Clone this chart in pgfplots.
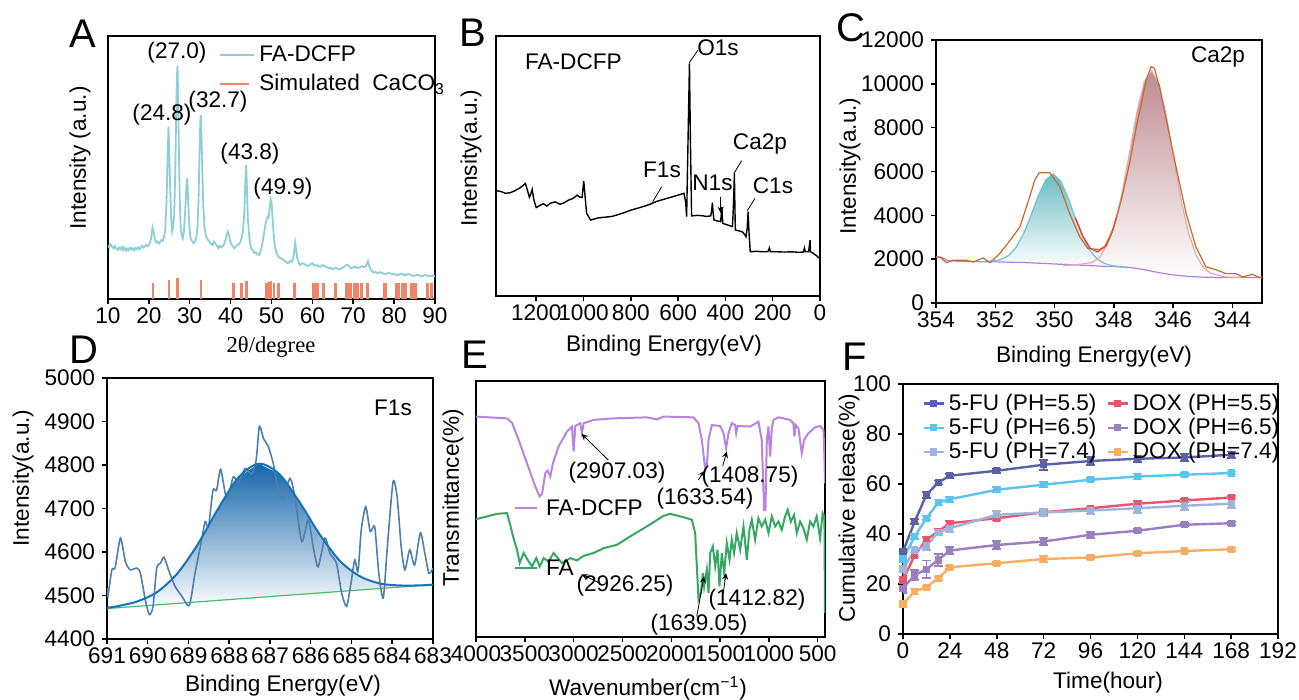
\documentclass[border=0pt]{standalone}
\usepackage{pgfplots}
\pgfplotsset{compat=1.18}
\usepackage{fontspec}
\setmainfont{Liberation Sans}
\newfontfamily\seriffont{Liberation Serif}

\definecolor{xrdteal}{HTML}{8ECFD4}
\definecolor{stick}{HTML}{EE8468}
\definecolor{cteal}{HTML}{6CC5CC}
\definecolor{ctealfill}{HTML}{6BBEC5}
\definecolor{cpink}{HTML}{E0A8B0}
\definecolor{cpinkfill}{HTML}{BE8C92}
\definecolor{corange}{HTML}{C8692A}
\definecolor{cbg}{HTML}{B27FE8}
\definecolor{dline}{HTML}{4F7FAE}
\definecolor{dfit}{HTML}{1874B8}
\definecolor{dfill}{HTML}{1466AA}
\definecolor{dgreen}{HTML}{4CBB6C}
\definecolor{epurple}{HTML}{B884E0}
\definecolor{egreen}{HTML}{35A862}
\definecolor{fdark}{HTML}{5A61A8}
\definecolor{fsky}{HTML}{5BC3F0}
\definecolor{flight}{HTML}{9DB5DE}
\definecolor{fred}{HTML}{E8566C}
\definecolor{fpurple}{HTML}{9B7EC0}
\definecolor{forange}{HTML}{F7AE63}

\newcommand{\fs}{\fontsize{11.3}{13}\selectfont}

\pgfplotsset{panel/.style={
  scale only axis, anchor=south west,
  tick align=outside, major tick length=2.5pt,
  axis line style={line width=0.75pt},
  every tick/.style={line width=0.75pt, black},
  tick label style={font=\fs},
  xticklabel style={yshift=1.5pt},
  /pgf/number format/assume math mode=true,
  /pgf/number format/1000 sep={},
  scaled ticks=false,
  xtick pos=left, ytick pos=left,
}}

\begin{document}
\begin{tikzpicture}[font=\fs]
\useasboundingbox (0,0) rectangle (649.5pt,350pt);

% ---------------- A: XRD
\begin{axis}[panel, at={(54pt,200.5pt)}, width=163.5pt, height=131.5pt,
  xmin=10, xmax=90, ymin=0, ymax=100, xtick={10,20,...,90}, ytick=\empty,
  legend style={at={(0.32,0.995)}, anchor=north west, draw=none, fill=none,
    font=\fs, row sep=1pt},
  legend cell align=left]
\addplot[xrdteal, line width=0.9pt] coordinates {
(10,20.5)(10.3,19.6)(10.6,20.8)(11,19.9)(11.4,19.2)(11.7,20.1)(12,19.3)(12.4,18.6)(12.7,19.5)(13,18.9)
(13.4,19.8)(13.7,18.7)(14,19.6)(14.4,18.4)(14.7,19.2)(15,18.6)(15.4,19.5)(15.7,18.8)(16,19.3)(16.4,18.5)
(16.7,19.4)(17,18.9)(17.4,19.7)(17.7,18.9)(18,19.4)(18.4,20.2)(18.7,19.5)(19,19.9)(19.4,20.6)(19.7,20.1)
(20,20.5)(20.3,21.4)(20.6,23.5)(20.9,27.1)(21.2,25.3)(21.5,22.4)(21.8,21.5)(22.1,21.9)(22.5,21.1)(22.8,21.8)
(23.1,22.4)(23.4,22.1)(23.7,23.5)(24.0,26.2)(24.3,36)(24.55,52)(24.8,65.5)(25.0,55)(25.2,42.7)(25.45,31)
(25.7,25.6)(25.95,27.5)(26.2,32.6)(26.45,48)(26.65,68)(26.85,84)(27.0,88.6)(27.15,78)(27.35,56)(27.55,38)
(27.8,26.2)(28.05,24.2)(28.3,23.1)(28.6,26)(28.9,34)(29.2,43)(29.4,45.9)(29.6,38)(29.85,29)(30.1,24)
(30.4,22.4)(30.7,21.8)(31,21.2)(31.3,22)(31.6,23.4)(31.9,27)(32.15,38)(32.4,56)(32.6,68)(32.7,70)
(32.85,63)(33.05,50.3)(33.3,36)(33.6,27.5)(33.9,24.5)(34.2,23.2)(34.5,22.4)(34.9,21.5)(35.3,20.8)(35.6,20.5)
(35.9,21.8)(36.2,21.2)(36.6,20.4)(37,19.3)(37.4,20.2)(37.7,19.6)(38,19.9)(38.4,20.8)(38.7,22.4)(39.0,24.2)
(39.3,25.6)(39.55,24.5)(39.8,22.5)(40.1,21.2)(40.5,20.1)(40.9,19.3)(41.3,20)(41.7,20.5)(42.1,20.9)(42.5,22.2)
(42.8,23.7)(43.1,27)(43.35,33)(43.6,45)(43.8,51)(44.0,42)(44.2,31)(44.45,25.5)(44.7,21.8)(45,19.3)
(45.4,18.6)(45.8,17.4)(46.2,17.8)(46.6,16.9)(47,16.7)(47.3,18)(47.6,19.9)(47.9,22.4)(48.2,25)(48.5,28.5)
(48.8,30)(49.05,31.3)(49.3,31)(49.55,34.5)(49.8,37.9)(50.0,37)(50.2,32.5)(50.45,26.2)(50.7,22)(51,18.6)
(51.4,16.8)(51.8,15.9)(52.2,15.5)(52.6,15.2)(53,14.8)(53.5,14.2)(54,13.6)(54.5,14.4)(55,14.2)(55.3,15.6)
(55.55,18)(55.8,21.4)(56.05,18.5)(56.3,15.5)(56.6,14.2)(57,12.9)(57.5,13.6)(58,13.3)(58.5,12.8)(59,12.5)
(59.5,13.2)(60,13.6)(60.5,12.7)(61,12.9)(61.5,12.4)(62,12.3)(62.5,12.9)(63,12.5)(63.5,12.1)(64,11.7)
(64.5,11.9)(65,11.3)(65.5,11.8)(66,11.7)(66.5,11.2)(67,11.5)(67.5,12)(68,12.5)(68.4,13)(68.7,12.9)
(69.1,12.2)(69.5,11.7)(70,12)(70.5,12.3)(71,11.8)(71.5,11.9)(72,12.3)(72.3,12.5)(72.7,12.1)(73,12.3)
(73.3,13.2)(73.6,14.4)(73.9,12.8)(74.3,11)(74.7,10.5)(75,10)(75.5,10.3)(76,9.8)(76.5,10.2)(77,10)
(77.5,9.6)(78,9.5)(78.5,9.9)(79,9.8)(79.5,9.4)(80,9.5)(80.5,9.2)(81,9.1)(81.5,9.6)(82,9.5)
(82.5,9.1)(83,9.1)(83.5,9.5)(84,9.3)(84.5,8.9)(85,8.7)(85.5,9.2)(86,9.1)(86.5,8.7)(87,8.7)
(87.5,9.1)(88,9)(88.5,8.6)(89,8.7)(89.5,8.9)(90,8.5)};
\addlegendentry{FA-DCFP}
\addplot[stick, line width=1.3pt, ycomb,
  legend image code/.code={\draw[stick, line width=1.3pt] (0cm,0cm) -- (0.5cm,0cm);}]
  coordinates {
(21.0,6.2)(24.9,7.2)(27.0,8)(32.8,7.2)(40.7,6.2)(42.6,6.2)(43.9,7)(48.8,6.2)(49.3,6.5)(49.9,7)
(50.6,6.2)(51.7,6.2)(55.7,6.2)(60.2,6.2)(60.8,6.2)(61.4,6.2)(62.7,6.2)(65.7,6.2)(68.2,6.2)(68.8,6.2)
(69.5,6.2)(70.3,6.2)(71.1,6.2)(72.0,6.2)(73.5,6.2)(77.5,6.2)(78.0,6.2)(80.6,6.2)(81.2,6.2)(82.0,6.2)
(82.8,6.2)(84.2,6.2)(84.7,6.2)(85.3,6.2)(88.1,6.2)(89.2,6.2)};
\addlegendentry{Simulated\ \ CaCO\textsubscript{3}}
\end{axis}

% ---------------- B: XPS survey
\begin{axis}[panel, at={(248pt,202pt)}, width=162pt, height=130pt,
  x dir=reverse, xmin=0, xmax=1370, ymin=0, ymax=100,
  xtick={0,200,...,1200}, ytick=\empty]
\addplot[black, line width=0.7pt] coordinates {
(1370,40.5)(1350,40.2)(1330,39.5)(1310,39.7)(1290,40.5)(1270,41.5)(1255,42.5)(1246,43.3)(1238,41)(1229,38)
(1222,39.5)(1217,41)(1210,37)(1200,34)(1185,34.8)(1170,35.5)(1155,34.6)(1140,35.7)(1120,36.2)(1100,35.3)
(1085,35.7)(1065,36.8)(1045,37.5)(1027,38.8)(1015,38)(1006,37.9)(999,44.2)(993,38)(987,31.8)(970,29.2)
(940,30)(910,30.3)(880,30.6)(857,31.2)(830,32)(800,33)(770,33.8)(740,34.6)(716,35.4)(690,36.4)
(660,37.2)(630,38)(600,38.8)(575,39.5)(568,36)(564,30.5)(558,60)(552,89.5)(548,60)(543,30.8)
(520,31)(500,30.9)(480,30.6)(462,30.8)(458,33)(455,35.9)(452,32)(448,29.2)(435,28.9)(420,28.6)
(417,32)(415,34.2)(413,31)(411,27.9)(390,27.3)(370,26.7)(366,35)(362,47.2)(360,35)(358,25.4)
(340,25)(327,24.6)(318,23.5)(313,22.8)(308,26)(304,32.4)(300,24)(295,17)(270,17.2)(240,17)
(220,17.1)(214,18.5)(210,17)(180,17)(150,16.9)(120,17)(90,16.8)(70,16.9)(66,18.5)(62,17)
(48,17)(44,20)(42,21.5)(40,17)(30,16.5)(15,15.5)(4,14.6)};
\end{axis}

% ---------------- C: Ca2p
\begin{axis}[panel, at={(468pt,198.5pt)}, width=163pt, height=131.5pt,
  x dir=reverse, xmin=343, xmax=354, ymin=0, ymax=12000,
  xtick={344,346,...,354}, ytick={0,2000,...,12000}]
% shaded areas: each peak followed by the background under it, back the other way
\addplot[top color=ctealfill, bottom color=white, draw=none] coordinates {
(352.55,1883)(352.05,1919)(351.8,1992)(351.55,2170)(351.3,2533)(351.05,3143)(350.8,3978)(350.55,4894)(350.3,5617)(350.05,5883)
(349.8,5583)(349.55,4829)(349.3,3883)(349.05,3020)(348.8,2376)(348.55,1995)(348.3,1797)(348.05,1703)(347.55,1628)
(348,1660)(348.5,1684)(349,1718)(349.5,1748)(350,1780)(350.5,1812)(351,1843)(351.5,1860)(352,1878)(352.55,1883)};
\addplot[top color=cpinkfill, bottom color=white, draw=none] coordinates {
(349.72,1711)(349.22,1749)(348.72,1854)(348.47,2111)(348.22,2646)(347.97,3594)(347.72,5034)(347.47,6853)(347.22,8706)(346.97,10101)
(346.72,10590)(346.47,9971)(346.22,8466)(345.97,6513)(345.72,4644)(345.47,3159)(345.22,2176)(344.97,1616)(344.72,1344)(344.22,1184)(343.72,1161)
(344,1160)(344.5,1165)(345,1180)(345.5,1215)(346,1280)(346.5,1390)(347,1530)(347.5,1625)(348,1660)(348.5,1684)(349,1700)(349.72,1711)};
\addplot[cbg, line width=0.6pt] coordinates {
(354,2100)(353.8,2080)(353.6,1930)(353.2,1900)(352.5,1885)(352,1878)(351.5,1860)(351,1843)(350.5,1812)(350,1780)
(349.5,1748)(349,1718)(348.5,1684)(348,1660)(347.5,1625)(347,1530)(346.5,1390)(346,1280)(345.5,1215)(345,1180)
(344.5,1165)(344,1160)(343,1160)};
\addplot[cteal, line width=0.6pt] coordinates {
(352.55,1883)(352.05,1919)(351.8,1992)(351.55,2170)(351.3,2533)(351.05,3143)(350.8,3978)(350.55,4894)(350.3,5617)(350.05,5883)
(349.8,5583)(349.55,4829)(349.3,3883)(349.05,3020)(348.8,2376)(348.55,1995)(348.3,1797)(348.05,1703)(347.55,1628)};
\addplot[cpink, line width=0.6pt] coordinates {
(349.72,1711)(349.22,1749)(348.72,1854)(348.47,2111)(348.22,2646)(347.97,3594)(347.72,5034)(347.47,6853)(347.22,8706)(346.97,10101)
(346.72,10590)(346.47,9971)(346.22,8466)(345.97,6513)(345.72,4644)(345.47,3159)(345.22,2176)(344.97,1616)(344.72,1344)(344.22,1184)(343.72,1161)};
\addplot[red!85, line width=0.6pt] coordinates {
(349.3,3896)(349.05,3062)(348.8,2502)(348.55,2327)(348.3,2570)(348.05,3293)(347.9,3971)};
\addplot[corange, line width=0.6pt] coordinates {
(354,2100)(353.87,2100)(353.64,1840)(353.42,1950)(352.97,1950)(352.74,1870)(352.41,2055)(352.18,1840)(351.85,2250)(351.5,2860)
(351.17,3470)(350.84,4840)(350.67,5600)(350.52,5940)(350.16,5940)(349.82,5300)(349.49,4080)(349.15,3015)(348.87,2480)(348.48,2440)
(348.25,2635)(348.03,3320)(347.75,4690)(347.47,6370)(347.24,8040)(347.07,9110)(346.91,10170)(346.74,10780)(346.63,10710)(346.46,9870)
(346.18,8040)(345.9,6210)(345.56,4080)(345.23,2560)(344.89,1645)(344.55,1520)(344.22,1340)(343.88,1340)(343.65,1190)(343.32,1310)
(343.09,1160)(343,1180)};
\end{axis}

% ---------------- D: F1s
\begin{axis}[panel, at={(53.5pt,30.5pt)}, width=163pt, height=130.5pt,
  x dir=reverse, xmin=683, xmax=691, ymin=4400, ymax=5000,
  xtick={683,...,691}, ytick={4400,4500,...,5000}]
\addplot[top color=dfill, bottom color=white, draw=none] coordinates {
(691,4472)(690.77,4475)(690.27,4486)(689.77,4508)(689.27,4551)(688.77,4618)(688.27,4700)(687.77,4772)(687.27,4803)
(686.77,4779)(686.27,4714)(685.77,4639)(685.27,4578)(684.77,4543)(684.27,4527)(683.77,4523)(683.27,4523.4)(683,4525)
(691,4470)};
\addplot[dgreen, line width=0.6pt] coordinates {(691,4470)(683,4525)};
\addplot[dline, line width=0.8pt, smooth, tension=0.4] coordinates {
(691.0,4517)(690.98,4498)(690.88,4559)(690.8,4564)(690.67,4632)(690.55,4578)(690.43,4559)(690.27,4563)(690.18,4551)(690.06,4490)
(689.96,4456)(689.87,4475)(689.78,4563)(689.69,4574)(689.6,4588)(689.49,4559)(689.33,4521)(689.16,4498)(688.98,4477)(688.84,4551)
(688.71,4612)(688.59,4670)(688.51,4657)(688.4,4742)(688.31,4742)(688.21,4790)(688.06,4721)(687.9,4773)(687.78,4758)(687.61,4792)
(687.45,4779)(687.34,4811)(687.26,4889)(687.16,4861)(687.04,4842)(686.92,4804)(686.8,4746)(686.69,4721)(686.51,4769)(686.39,4727)
(686.22,4624)(686.06,4674)(685.94,4612)(685.82,4566)(685.65,4632)(685.53,4597)(685.37,4574)(685.24,4505)(685.12,4475)(685.02,4524)
(684.92,4582)(684.84,4555)(684.76,4651)(684.65,4704)(684.54,4647)(684.43,4658)(684.33,4551)(684.22,4494)(684.12,4612)(683.98,4761)
(683.88,4727)(683.78,4612)(683.69,4559)(683.57,4605)(683.45,4570)(683.31,4644)(683.2,4597)(683.1,4551)(683.0,4563)};
\addplot[dfit, line width=1pt, smooth] coordinates {
(691,4472)(690.77,4475)(690.27,4486)(689.77,4508)(689.27,4551)(688.77,4618)(688.27,4700)(687.77,4772)(687.27,4803)
(686.77,4779)(686.27,4714)(685.77,4639)(685.27,4578)(684.77,4543)(684.27,4527)(683.77,4523)(683.27,4523.4)(683,4525)};
\end{axis}

% ---------------- E: FTIR
\begin{axis}[panel, at={(238pt,31.5pt)}, width=174.5pt, height=128pt,
  x dir=reverse, xmin=425, xmax=4000, ymin=0, ymax=100,
  xtick={500,1000,...,4000}, ytick=\empty]
\addplot[epurple, line width=1pt] coordinates {
(4000,86.1)(3683,85.4)(3631,83.7)(3563,77)(3478,67.9)(3393,58.8)(3348,54.9)(3324,55.9)(3290,64)(3266,65)
(3239,62.7)(3212,67.9)(3154,74.4)(3069,80.2)(3017,82.2)(3000,72.4)(2983,82.4)(2932,83.5)(2915,79.6)(2898,83.5)
(2796,84.8)(2591,85.4)(2250,85.8)(2147,85)(2079,86.1)(1772,85.8)(1721,83.5)(1687,77)(1653,65.9)(1636,66.6)
(1618,77)(1584,82.8)(1499,82.4)(1465,79.6)(1438,73.7)(1414,79.6)(1380,83.5)(1346,82.8)(1335,79.6)(1322,82.4)
(1192,82.2)(1107,84.1)(1073,77)(1049,49.7)(1035,49.7)(1021,77)(1004,82.2)(987,70.5)(970,81.5)(953,84.8)
(902,85.8)(783,84.8)(749,83.5)(739,78.3)(725,82.8)(697,81.5)(663,71.8)(639,77)(595,79.6)(527,81.9)
(476,82.4)(441,80.9)(431,70.5)(425,60)};
\addplot[egreen, line width=1pt] coordinates {
(4000,46)(3785,48.1)(3683,48.4)(3649,43.8)(3621,39.3)(3580,34.1)(3553,28.9)(3512,32.8)(3461,29.5)(3427,27.6)
(3382,30.8)(3348,27.6)(3307,30.8)(3256,29.5)(3205,32.8)(3120,28.9)(3034,30.8)(2966,29.9)(2898,31.7)(2796,32.8)
(2693,34.7)(2557,36)(2420,39.3)(2250,43.2)(2079,47.3)(2011,48.1)(1874,46.8)(1789,45.8)(1755,40.6)(1738,27.6)
(1721,14.8)(1697,17.2)(1676,25)(1663,19.8)(1636,26.3)(1618,17.2)(1601,32.8)(1574,35.4)(1550,27.6)(1526,34.1)
(1506,19.8)(1482,32.8)(1458,25)(1431,36.7)(1403,30.2)(1380,38)(1356,32.8)(1329,40.6)(1294,34.1)(1260,43.2)
(1226,30.2)(1199,41.9)(1175,45.8)(1141,38)(1107,46.4)(1073,43.2)(1038,45.8)(1004,40.6)(970,47.1)(936,43.2)
(902,45.1)(868,41.9)(834,47.1)(807,49.7)(776,45.1)(742,47.7)(714,40.6)(680,45.1)(646,42.5)(612,38)
(578,45.1)(544,43.2)(510,47.1)(476,38.6)(449,48.4)(431,47.1)(425,9.4)};
\end{axis}

% ---------------- F: release
\begin{axis}[panel, at={(451.5pt,33pt)}, width=187.5pt, height=125pt,
  xmin=0, xmax=192, ymin=0, ymax=100,
  xtick={0,24,...,192}, ytick={0,20,...,100},
  every axis plot/.append style={line width=1.2pt, mark=square*, mark size=1.2pt,
    mark options={solid},
    /pgfplots/error bars/y dir=both, /pgfplots/error bars/y explicit,
    /pgfplots/error bars/error bar style={line width=0.9pt},
    /pgfplots/error bars/error mark options={rotate=90, mark size=2.2pt, line width=0.9pt}},
  legend columns=2,
  legend style={at={(0.035,0.995)}, anchor=north west, draw=none, fill=none,
    font=\fs, row sep=-1.5pt,
    /tikz/every even column/.append style={column sep=3pt}},
  legend cell align=left,
  legend image code/.code={\draw[mark repeat=2,mark phase=2,#1] plot coordinates {(0pt,0pt) (5pt,0pt) (10pt,0pt)};}]
\addplot[fdark] coordinates {(0,33) +- (0,1) (6,45) +- (0,1) (12,55.7) +- (0,1.2) (18,60.6) +- (0,0.8) (24,63.3) +- (0,0.8)
  (48,65.3) +- (0,0.8) (72,67.7) +- (0,2) (96,69.2) +- (0,1.5) (120,70.1) +- (0,1.3) (144,70.6) +- (0,1.3) (168,71.7) +- (0,1.3)};
\addlegendentry{5-FU (PH=5.5)}
\addplot[fred] coordinates {(0,21.6) +- (0,2) (6,31.6) +- (0,1) (12,37.7) +- (0,1) (18,41) +- (0,1) (24,44.3) +- (0,1)
  (48,46.3) +- (0,0.6) (72,48.7) +- (0,0.6) (96,50.3) +- (0,0.6) (120,52.1) +- (0,1) (144,53.4) +- (0,0.6) (168,54.6) +- (0,0.6)};
\addlegendentry{DOX (PH=5.5)}
\addplot[fsky] coordinates {(0,30) +- (0,1.5) (6,39) +- (0,1) (12,46.3) +- (0,0.8) (18,52.6) +- (0,1.2) (24,53.9) +- (0,1)
  (48,57.7) +- (0,1) (72,59.7) +- (0,1) (96,61.7) +- (0,0.6) (120,63) +- (0,1.2) (144,63.7) +- (0,0.6) (168,64.4) +- (0,0.6)};
\addlegendentry{5-FU (PH=6.5)}
\addplot[fpurple] coordinates {(0,18.3) +- (0,2) (6,23.6) +- (0,2) (12,25.9) +- (0,3.5) (18,29.6) +- (0,2.5) (24,33.4) +- (0,1.5)
  (48,35.6) +- (0,1.5) (72,37) +- (0,1.5) (96,39.7) +- (0,1.2) (120,41.3) +- (0,0.6) (144,43.7) +- (0,0.6) (168,44.3) +- (0,0.6)};
\addlegendentry{DOX (PH=6.5)}
\addplot[flight] coordinates {(0,26) +- (0,1.5) (6,33.6) +- (0,1) (12,35.2) +- (0,1.5) (18,40.6) +- (0,1) (24,42.3) +- (0,1.5)
  (48,47.7) +- (0,1.5) (72,48.6) +- (0,1.5) (96,49.4) +- (0,1.5) (120,50.3) +- (0,1.8) (144,51.3) +- (0,1.8) (168,52.1) +- (0,1.8)};
\addlegendentry{5-FU (PH=7.4)}
\addplot[forange] coordinates {(0,12) +- (0,0.6) (6,17) +- (0,1.2) (12,18.7) +- (0,0.6) (18,22.3) +- (0,0.6) (24,26.7) +- (0,0.6)
  (48,28.3) +- (0,0.6) (72,30) +- (0,1.3) (96,30.6) +- (0,0.6) (120,32.3) +- (0,0.6) (144,33.2) +- (0,0.6) (168,33.9) +- (0,0.6)};
\addlegendentry{DOX (PH=7.4)}
\end{axis}

% ---------------- labels and annotations, in pixel coordinates of the 1299x700 figure
\begin{scope}[x=0.5pt, y=-0.5pt, shift={(0,-700)}]
  \begin{scope}[font=\fontsize{20}{22}\selectfont, inner sep=0pt]
    \node at (83,34) {A};
    \node at (473,33) {B};
    \node at (851,28) {C};
    \node at (84,350) {D};
    \node at (475,355) {E};
    \node at (855,357) {F};
  \end{scope}
  % axis titles
  \node[font=\seriffont\fontsize{11.3}{13}\selectfont] at (271,347) {2θ/degree};
  \node[rotate=90] at (80,158) {Intensity (a.u.)};
  \node at (664,346) {Binding Energy(eV)};
  \node[rotate=90] at (471,158) {Intensity(a.u.)};
  \node at (1094,357) {Binding Energy(eV)};
  \node[rotate=90] at (850,166) {Intensity(a.u.)};
  \node at (283,686) {Binding Energy(eV)};
  \node[rotate=90] at (23,478) {Intensity(a.u.)};
  \node at (648,688) {Wavenumber(cm\textsuperscript{−1})};
  \node[rotate=90] at (453,498) {Transmittance(\%)};
  \node at (1108,683) {Time(hour)};
  \node[rotate=90] at (849,508) {Cumulative release(\%)};
  % A peaks
  \node at (177,53) {(27.0)};
  \node at (162,115) {(24.8)};
  \node at (218,102) {(32.7)};
  \node at (250,154) {(43.8)};
  \node at (283,189) {(49.9)};
  % B
  \node[anchor=west] at (518,62) {FA-DCFP};
  \node at (718,48) {O1s};
  \draw[line width=0.4pt] (689.3,62.7) -- (698,50);
  \node at (662,170) {F1s};
  \draw[line width=0.4pt] (652.7,201.7) -- (661.7,186.7);
  \node at (712.5,183) {N1s};
  \draw[line width=0.4pt, -stealth] (720.7,196.7) -- (720.7,213);
  \node at (760,144) {Ca2p};
  \draw[line width=0.4pt] (734,173.3) -- (741.7,160.7);
  \node at (773,186) {C1s};
  \draw[line width=0.4pt] (747.3,210.7) -- (755,198.3);
  % C, D
  \node at (1218,57) {Ca2p};
  \node at (393,408) {F1s};
  % E legend and bands
  \draw[epurple, line width=1pt] (515,508) -- (537,508);
  \node[anchor=west] at (539,508) {FA-DCFP};
  \draw[egreen, line width=1pt] (515,568) -- (537,568);
  \node[anchor=west] at (539,568) {FA};
  \node at (617,473) {(2907.03)};
  \draw[line width=0.4pt, -stealth] (608.3,460) -- (581.7,434);
  \node at (750,477) {(1408.75)};
  \draw[line width=0.4pt, -stealth] (722.7,466) -- (726.7,451.7);
  \node at (705,499) {(1633.54)};
  \draw[line width=0.4pt, -stealth] (698.3,480) -- (704.3,471);
  \node at (625,586) {(2926.25)};
  \draw[line width=0.4pt, -stealth] (600,583.3) -- (581.7,574.3);
  \node at (757,600) {(1412.82)};
  \draw[line width=0.4pt, -stealth] (723.3,593.3) -- (726,573.3);
  \node at (699,625) {(1639.05)};
  \draw[line width=0.4pt, -stealth] (696.7,616.7) -- (704,576.7);
\end{scope}
\end{tikzpicture}
\end{document}
